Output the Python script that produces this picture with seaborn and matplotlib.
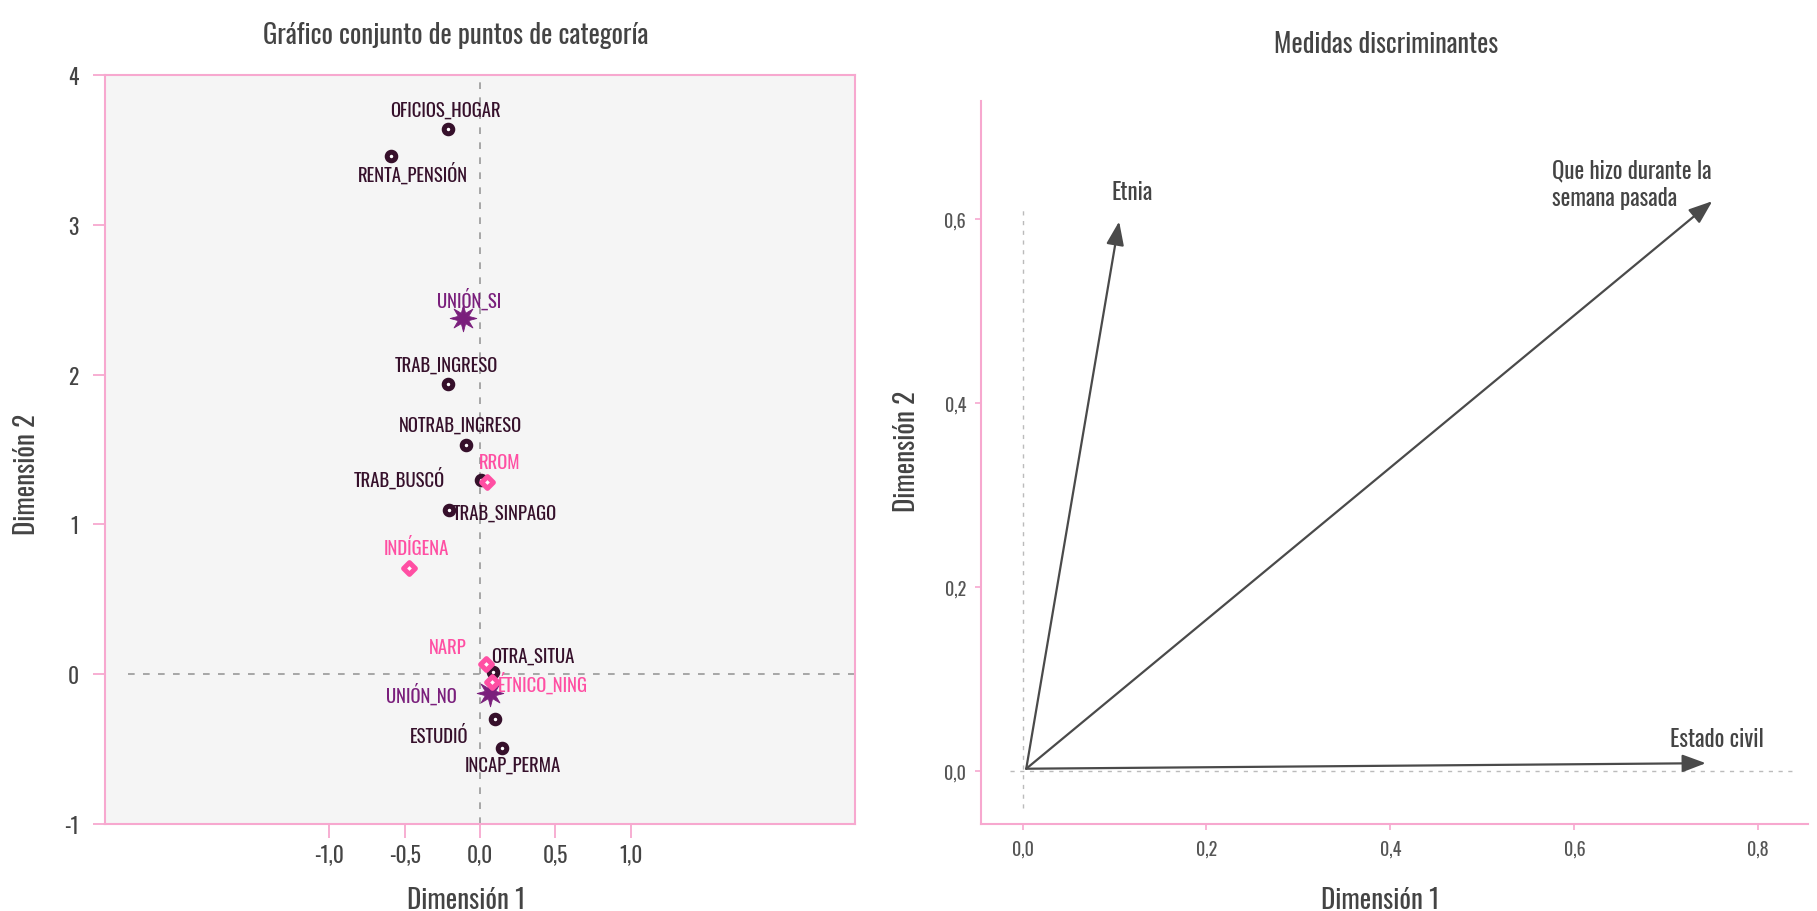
import pandas as pd
import numpy as np
import matplotlib
matplotlib.use("Agg")
import matplotlib.pyplot as plt
from matplotlib import font_manager
from matplotlib.path import Path
import seaborn as sns

# Category points (joint plot)
cat_labels = ["OFICIOS_HOGAR", "RENTA_PENSIÓN", "TRAB_INGRESO", "NOTRAB_INGRESO", "TRAB_BUSCÓ",
              "TRAB_SINPAGO", "OTRA_SITUA", "ESTUDIÓ", "INCAP_PERMA",
              "UNIÓN_SI", "UNIÓN_NO",
              "RROM", "INDÍGENA", "NARP", "ÉTNICO_NING"]
cat_dim1 = [-0.212, -0.59, -0.213, -0.094, 0.008, -0.204, 0.086, 0.10, 0.145,
            -0.115, 0.064,
            0.046, -0.475, 0.042, 0.079]
cat_dim2 = [3.638, 3.46, 1.936, 1.527, 1.293, 1.093, 0.012, -0.30, -0.49,
            2.376, -0.126,
            1.282, 0.708, 0.067, -0.049]
cat_group = ["Que hizo"] * 9 + ["Estado civil"] * 2 + ["Etnia"] * 4

# label offsets in points (dx, dy) - text placement only
label_offsets = [(-2, 14), (16, -12), (-1, 14), (-4, 15), (-59, 2), (40, -1.5), (29, 12), (-40, -11.5), (8, -12),
                 (4.5, 14), (-49, 0),
                 (9, 14.5), (6, 15), (-28, 12.5), (37, -0.5)]

# Discrimination measures
var_names = ["Etnia", "Que hizo durante la\nsemana pasada", "Estado civil"]
disc_dim1 = [0.105, 0.750, 0.743]
disc_dim2 = [0.597, 0.619, 0.009]

# look for a condensed / narrow face
fonts = font_manager.fontManager.ttflist
names = {f.name for f in fonts}
main_font, stretch = "DejaVu Sans", "normal"
for cand in ["Oswald", "Roboto Condensed", "Liberation Sans Narrow", "Open Sans Condensed",
             "Noto Sans Condensed", "Fira Sans Condensed"]:
    if cand in names:
        main_font = cand
        break
else:
    cond = [f for f in fonts if str(f.stretch) in ("condensed", "semi-condensed", "extra-condensed")
            or (isinstance(f.stretch, int) and f.stretch < 500)
            or "Condensed" in f.fname or "Narrow" in f.fname]
    if cond:
        pick = sorted(cond, key=lambda f: (f.weight not in ("normal", 400), f.style != "normal"))[0]
        main_font = pick.name
        stretch = pick.stretch

sns.set_theme(style="white")
plt.rcParams["font.family"] = [main_font, "DejaVu Sans"]
plt.rcParams["font.stretch"] = stretch

pink = "#f7a8cf"
dark = "#36102b"
purple = "#7a1f7c"
hot_pink = "#ff4fa3"
grey_txt = "#444444"

star8 = Path.unit_regular_star(8, innerCircle=0.42)

fig = plt.figure(figsize=(18.17, 9.12), dpi=100)

# ---- Left panel ----
ax1 = fig.add_axes([0.0578, 0.0954, 0.4128, 0.8213])
ax1.set_facecolor("#f5f5f5")
ax1.set_xlim(-2.49, 2.49)
ax1.set_ylim(-1, 4)
ax1.axhline(0, color="#999999", lw=1.2, ls=(0, (4, 5)), zorder=1, xmin=0.03, xmax=1)
ax1.axvline(0, color="#999999", lw=1.2, ls=(0, (4, 5)), zorder=1)

df = pd.DataFrame({"label": cat_labels, "dim1": cat_dim1, "dim2": cat_dim2, "group": cat_group})
styles = {
    "Que hizo": dict(marker="o", s=38, color="white", edgecolor=dark, linewidth=3.6, txt=dark),
    "Estado civil": dict(marker=star8, s=370, color=purple, edgecolor=purple, linewidth=0.6, txt=purple),
    "Etnia": dict(marker="D", s=36, color="white", edgecolor=hot_pink, linewidth=3.6, txt=hot_pink),
}
for grp, st in styles.items():
    sub = df[df["group"] == grp]
    sns.scatterplot(data=sub, x="dim1", y="dim2", ax=ax1, marker=st["marker"], s=st["s"],
                    color=st["color"], edgecolor=st["edgecolor"], linewidth=st["linewidth"],
                    zorder=3, legend=False)

for i, row in df.iterrows():
    dx, dy = label_offsets[i]
    ax1.annotate(row["label"], (row["dim1"], row["dim2"]), xytext=(dx, dy), textcoords="offset points",
                 ha="center", va="center", fontsize=13.5, color=styles[row["group"]]["txt"], zorder=4)

ax1.set_xticks([-1.0, -0.5, 0.0, 0.5, 1.0])
ax1.set_xticklabels(["-1,0", "-0,5", "0,0", "0,5", "1,0"])
ax1.set_yticks([-1, 0, 1, 2, 3, 4])
ax1.set_yticklabels(["-1", "0", "1", "2", "3", "4"])
for s in ax1.spines.values():
    s.set_color(pink)
    s.set_linewidth(1.5)
ax1.tick_params(axis="x", length=10, width=1.3, color=pink, labelsize=15.5, labelcolor=grey_txt, pad=4)
ax1.tick_params(axis="y", length=9, width=1.3, color=pink, labelsize=15.5, labelcolor=grey_txt, pad=10)
ax1.tick_params(bottom=True, left=True)
ax1.set_xlabel("Dimensión 1", fontsize=19.5, color=grey_txt, labelpad=15)
ax1.xaxis.label.set_x(0.482)
ax1.set_ylabel("Dimensión 2", fontsize=19.5, color=grey_txt, labelpad=17)
ax1.yaxis.label.set_y(0.4675)
ax1.set_title("Gráfico conjunto de puntos de categoría", fontsize=19.3, color=grey_txt, pad=23, x=0.468)

# ---- Right panel ----
ax2 = fig.add_axes([0.540, 0.0954, 0.455, 0.793])
ax2.set_xlim(-0.045, 0.854)
ax2.set_ylim(-0.057, 0.728)
ax2.vlines(0, -0.04, 0.614, color="#bbbbbb", lw=1, ls=(0, (3, 4)), zorder=1)
ax2.hlines(0, -0.014, 0.84, color="#bbbbbb", lw=1, ls=(0, (3, 4)), zorder=1)

for name, x, y in zip(var_names, disc_dim1, disc_dim2):
    ax2.annotate("", xy=(x, y), xytext=(0.004, 0.003),
                 arrowprops=dict(arrowstyle="-|>,head_length=1.2,head_width=0.45", color="#4a4a4a",
                                 lw=1.6, shrinkA=0, shrinkB=0))
ax2.text(disc_dim1[0] - 0.008, disc_dim2[0] + 0.033, var_names[0], fontsize=16.5, color=grey_txt,
         ha="left", va="center")
ax2.text(disc_dim1[1] - 0.174, disc_dim2[1] + 0.019, var_names[1], fontsize=16.5, color=grey_txt,
         ha="left", va="center", linespacing=1.2)
ax2.text(disc_dim1[2] + 0.012, disc_dim2[2] + 0.027, var_names[2], fontsize=16.5, color=grey_txt,
         ha="center", va="center")

ax2.set_xticks([0.0, 0.2, 0.4, 0.6, 0.8])
ax2.set_xticklabels(["0,0", "0,2", "0,4", "0,6", "0,8"])
ax2.set_yticks([0.0, 0.2, 0.4, 0.6])
ax2.set_yticklabels(["0,0", "0,2", "0,4", "0,6"])
ax2.spines["top"].set_visible(False)
ax2.spines["right"].set_visible(False)
for s in ["left", "bottom"]:
    ax2.spines[s].set_color(pink)
    ax2.spines[s].set_linewidth(1.5)
ax2.tick_params(bottom=True, left=True, length=4, width=1.2, color=pink, labelsize=13,
                labelcolor="#555555", pad=7)
ax2.set_xlabel("Dimensión 1", fontsize=19.5, color=grey_txt, labelpad=21)
ax2.xaxis.label.set_x(0.4825)
ax2.set_ylabel("Dimensión 2", fontsize=19.5, color=grey_txt, labelpad=17)
ax2.yaxis.label.set_y(0.516)
ax2.set_title("Medidas discriminantes", fontsize=19, color=grey_txt, pad=35, x=0.4895)

fig.savefig("out.png", dpi=100)
